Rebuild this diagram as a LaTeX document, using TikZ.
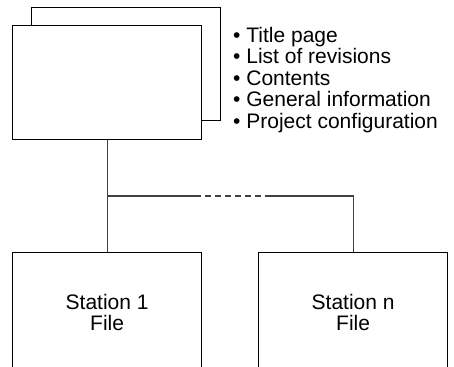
\documentclass[tikz,border=0pt]{standalone}
\usepackage{fontspec}
\setmainfont{Liberation Sans}
\tikzset{
  sheet/.style={draw=black, line width=1.3pt, fill=white, inner sep=0pt},
  link/.style={draw=black!75, line width=1.2pt},
  stationtext/.style={font=\fontsize{21}{20.7}\selectfont, align=center},
  listtext/.style={font=\fontsize{21}{21.5}\selectfont, align=left, inner sep=0pt, anchor=north west}
}
\begin{document}
\begin{tikzpicture}[x=1pt, y=-1pt]
  \useasboundingbox (0,0) rectangle (454,366);
  \clip (0,0) rectangle (454,366);
  % stacked document sheets
  \node[sheet, minimum width=189pt, minimum height=113pt, anchor=north west] (coverback) at (31,7) {};
  \node[sheet, minimum width=189pt, minimum height=114pt, anchor=north west] (cover) at (12,25) {};
  % contents list
  \node[listtext] (contents) at (233,26.7) {\textbullet\ Title page\\\textbullet\ List of revisions\\\textbullet\ Contents\\\textbullet\ General information\\\textbullet\ Project configuration};
  % station files
  \node[sheet, minimum width=189pt, minimum height=120pt, anchor=north west, stationtext] (st1) at (12,252) {Station 1\\File};
  \node[sheet, minimum width=189pt, minimum height=120pt, anchor=north west, stationtext] (stn) at (258,252) {Station n\\File};
  % distribution line
  \coordinate (junction) at (cover.south |- 0,196);
  \coordinate (gapstart) at (195,196);
  \coordinate (gapend) at (266,196);
  \coordinate (corner) at (stn.north |- 0,196);
  \draw[link] (cover.south) -- (st1.north);
  \draw[link] (junction) -- (gapstart);
  \draw[link, dash pattern=on 6pt off 4pt] (gapstart) -- (gapend);
  \draw[link] (gapend) -- (corner) -- (stn.north);
\end{tikzpicture}
\end{document}
